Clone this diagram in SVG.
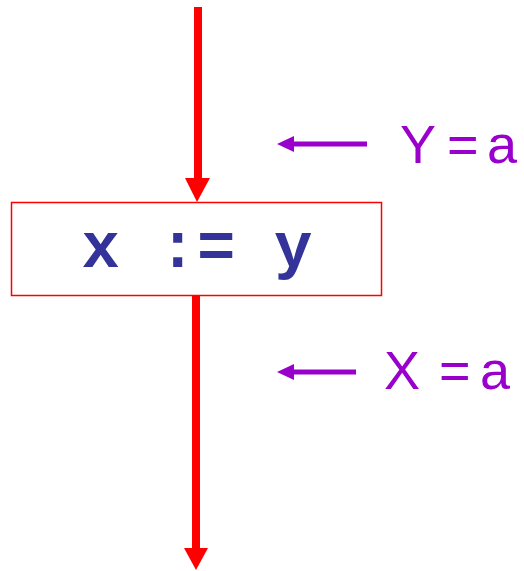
<svg xmlns="http://www.w3.org/2000/svg" width="524" height="571" viewBox="0 0 524 571">
<defs>
<style>
.flow{stroke:#ff0000;stroke-width:8;fill:none}
.ptr{stroke:#9900cc;stroke-width:5;fill:none}
.lbl{font-family:"Comic Sans MS","Liberation Sans",sans-serif;font-size:54px;fill:#9900cc}
.code{font-family:"Liberation Mono","Courier New",monospace;font-weight:bold;font-size:64px;fill:#333399}
</style>
</defs>
<rect width="524" height="571" fill="#ffffff"/>
<g id="connectors">
<line class="flow" x1="198" y1="7" x2="198" y2="182"/>
<polygon points="185,178 210,178 197,202" fill="#ff0000"/>
<line class="flow" x1="196" y1="296" x2="196" y2="552"/>
<polygon points="184,548 208,548 196,570" fill="#ff0000"/>
<line class="ptr" x1="290" y1="144" x2="367" y2="144"/>
<polygon points="277,144 294,136 294,152" fill="#9900cc"/>
<line class="ptr" x1="290" y1="372" x2="356" y2="372"/>
<polygon points="277,372 294,364 294,380" fill="#9900cc"/>
</g>
<g id="node-assign">
<rect x="11.5" y="202.5" width="370" height="93" fill="#ffffff" stroke="#ff0000" stroke-width="1.5"/>
<text class="code" x="197" y="267" text-anchor="middle" textLength="231" lengthAdjust="spacing" xml:space="preserve">x := y</text>
</g>
<g id="label-y">
<text class="lbl" y="163"><tspan x="400">Y</tspan><tspan x="447">=</tspan><tspan x="487">a</tspan></text>
</g>
<g id="label-x">
<text class="lbl" y="389"><tspan x="384">X</tspan><tspan x="439">=</tspan><tspan x="480">a</tspan></text>
</g>
</svg>
